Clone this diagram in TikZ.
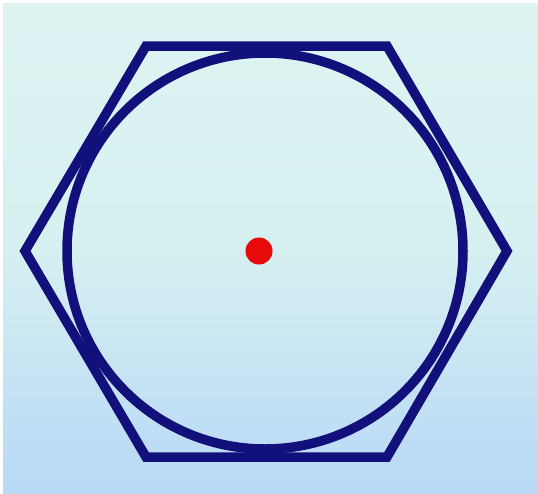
\documentclass[tikz,border=0pt]{standalone}
\begin{document}
\definecolor{navy}{RGB}{18,16,122}
\definecolor{dotred}{RGB}{232,10,10}
\definecolor{bgtop}{RGB}{222,244,243}
\definecolor{bgmid}{RGB}{214,240,241}
\definecolor{bgbot}{RGB}{184,216,246}
\begin{tikzpicture}[x=1pt,y=-1pt,
  edge/.style={draw=navy,line width=9.5pt,line join=miter},
  ring/.style={circle,draw=navy,line width=9.5pt,minimum size=396pt,inner sep=0pt},
  dot/.style={circle,fill=dotred,minimum size=27pt,inner sep=0pt}]
\useasboundingbox (0,0) rectangle (538,493);
\fill[white] (0,0) rectangle (538,493);
\shade[top color=bgtop,bottom color=bgbot,middle color=bgmid] (3,3) rectangle (538,493);
\coordinate (v1) at (146,46);
\coordinate (v2) at (387,46);
\coordinate (v3) at (507,251);
\coordinate (v4) at (387,457);
\coordinate (v5) at (146,457);
\coordinate (v6) at (25,251);
\draw[edge] (v1) -- (v2) -- (v3) -- (v4) -- (v5) -- (v6) -- cycle;
\node[ring] (c) at (265,251) {};
\node[dot] (o) at (259,251) {};
\end{tikzpicture}
\end{document}
